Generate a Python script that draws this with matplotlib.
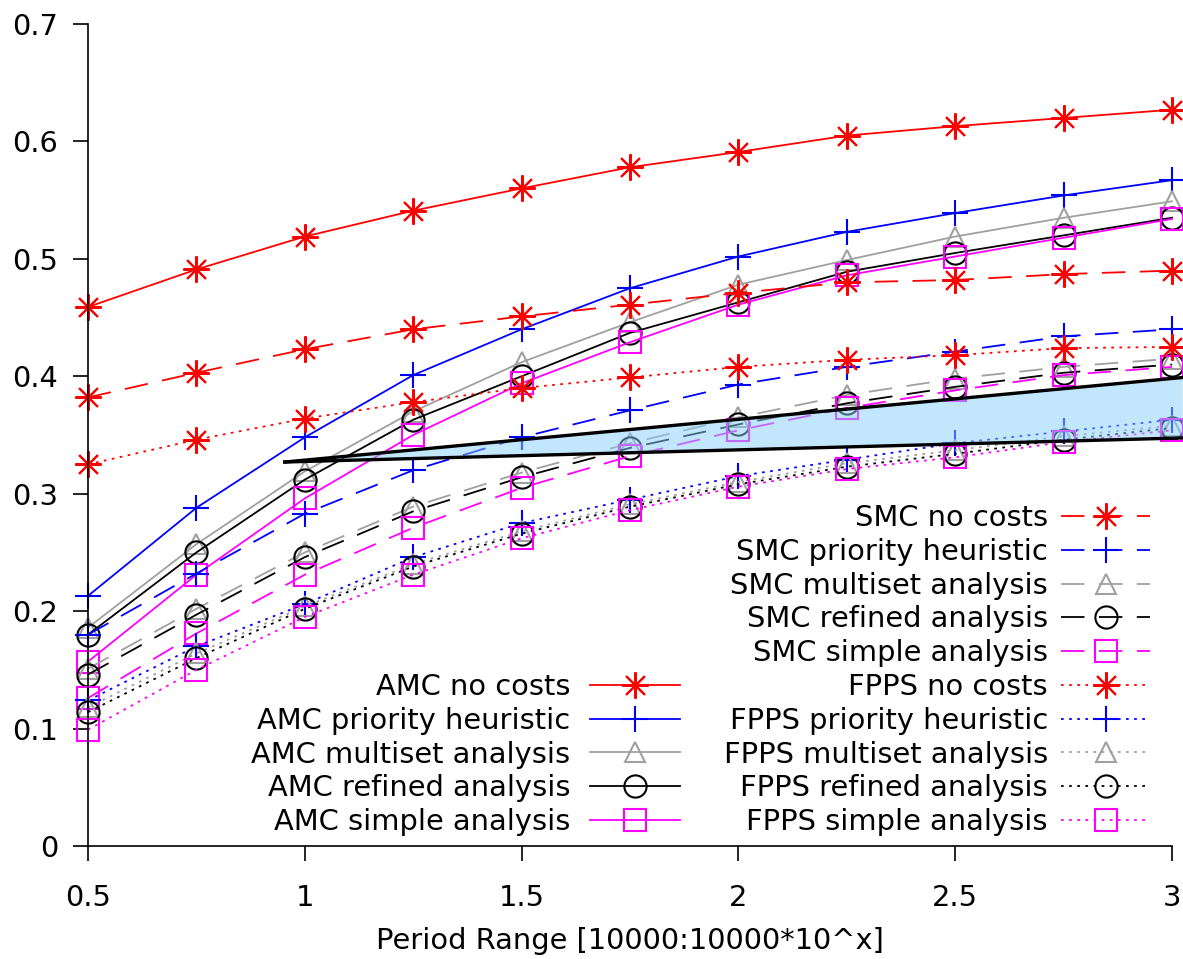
import numpy as np
import matplotlib
matplotlib.use("Agg")
import matplotlib.pyplot as plt

# period range exponent
x = [0.5, 0.75, 1.0, 1.25, 1.5, 1.75, 2.0, 2.25, 2.5, 2.75, 3.0]

amc_nocost = [0.459, 0.491, 0.519, 0.541, 0.560, 0.578, 0.591, 0.605, 0.613, 0.620, 0.627]
amc_prio = [0.213, 0.288, 0.348, 0.401, 0.440, 0.475, 0.502, 0.523, 0.539, 0.554, 0.567]
amc_multi = [0.186, 0.257, 0.319, 0.370, 0.412, 0.446, 0.478, 0.499, 0.519, 0.535, 0.549]
amc_refined = [0.180, 0.250, 0.312, 0.363, 0.400, 0.437, 0.463, 0.489, 0.505, 0.520, 0.535]
amc_simple = [0.157, 0.231, 0.296, 0.350, 0.394, 0.429, 0.461, 0.486, 0.502, 0.518, 0.534]

smc_nocost = [0.382, 0.403, 0.423, 0.440, 0.451, 0.461, 0.471, 0.480, 0.482, 0.487, 0.490]
smc_prio = [0.180, 0.232, 0.283, 0.320, 0.348, 0.371, 0.393, 0.408, 0.421, 0.434, 0.440]
smc_multi = [0.151, 0.202, 0.250, 0.289, 0.318, 0.343, 0.365, 0.384, 0.398, 0.408, 0.415]
smc_refined = [0.146, 0.197, 0.246, 0.285, 0.314, 0.339, 0.359, 0.377, 0.391, 0.403, 0.410]
smc_simple = [0.126, 0.181, 0.231, 0.271, 0.305, 0.332, 0.354, 0.373, 0.388, 0.401, 0.408]

fpps_nocost = [0.325, 0.346, 0.364, 0.378, 0.390, 0.399, 0.408, 0.414, 0.418, 0.424, 0.425]
fpps_prio = [0.124, 0.170, 0.206, 0.246, 0.275, 0.295, 0.315, 0.329, 0.343, 0.353, 0.363]
fpps_multi = [0.118, 0.164, 0.204, 0.240, 0.268, 0.291, 0.310, 0.326, 0.337, 0.349, 0.358]
fpps_refined = [0.114, 0.160, 0.202, 0.238, 0.266, 0.289, 0.308, 0.323, 0.334, 0.346, 0.356]
fpps_simple = [0.099, 0.150, 0.195, 0.231, 0.262, 0.286, 0.306, 0.321, 0.331, 0.344, 0.354]

# highlighted wedge (start point, upper end, lower end)
wedge_x = [0.954, 3.025, 3.025]
wedge_y = [0.327, 0.399, 0.3475]

xticks = [0.5, 1, 1.5, 2, 2.5, 3]
xticklabels = ["0.5", "1", "1.5", "2", "2.5", "3"]
yticks = [0, 0.1, 0.2, 0.3, 0.4, 0.5, 0.6, 0.7]
yticklabels = ["0", "0.1", "0.2", "0.3", "0.4", "0.5", "0.6", "0.7"]

plt.rcParams['font.family'] = ['DejaVu Sans']
FS = 20.8

fig = plt.figure(figsize=(11.83, 9.59), dpi=100)
ax = fig.add_axes([88/1183, 1-846/959, (1172-88)/1183, (846-24)/959])

dashed = (0, (13, 8))
dotted = (0, (1.5, 3))
lw = 1.3
star = (8, 2, 0)

groups = [
    ("AMC", "-", [amc_nocost, amc_prio, amc_multi, amc_refined, amc_simple]),
    ("SMC", dashed, [smc_nocost, smc_prio, smc_multi, smc_refined, smc_simple]),
    ("FPPS", dotted, [fpps_nocost, fpps_prio, fpps_multi, fpps_refined, fpps_simple]),
]
names = ["no costs", "priority heuristic", "multiset analysis", "refined analysis", "simple analysis"]
colors = ["#ff0000", "#0000ff", "#a0a0a0", "#000000", "#ff00ff"]
markers = [star, "+", "^", "o", "s"]
msizes = [19, 19, 15, 16, 16]

handles = {}
for prefix, ls, series in groups:
    handles[prefix] = []
    for name, vals, c, m, ms in zip(names, series, colors, markers, msizes):
        h, = ax.plot(x, vals, linestyle=ls, color=c, lw=lw, marker=m, ms=ms,
                     mfc="none", mec=c, mew=1.5, label=prefix + " " + name,
                     clip_on=False)
        handles[prefix].append(h)

# shaded wedge on top
ax.fill(wedge_x, wedge_y, color="#87cefa", alpha=0.5, lw=0, clip_on=False, zorder=5)
ax.plot([wedge_x[0], wedge_x[1]], [wedge_y[0], wedge_y[1]], color="black", lw=2.4,
        clip_on=False, zorder=6)
ax.plot([wedge_x[0], wedge_x[2]], [wedge_y[0], wedge_y[2]], color="black", lw=2.4,
        clip_on=False, zorder=6)

ax.set_xlim(0.5, 3)
ax.set_ylim(0, 0.7)
ax.set_xticks(xticks)
ax.set_xticklabels(xticklabels)
ax.set_yticks(yticks)
ax.set_yticklabels(yticklabels)
ax.tick_params(direction="out", length=10.5, width=1.2, labelsize=FS)
ax.tick_params(axis="y", pad=11)
ax.tick_params(axis="x", pad=17)
for s in ["top", "right"]:
    ax.spines[s].set_visible(False)
for s in ["left", "bottom"]:
    ax.spines[s].set_linewidth(1.2)
ax.set_xlabel("Period Range [10000:10000*10^x]", fontsize=FS, labelpad=11)

leg_kw = dict(loc="lower right", frameon=False, markerfirst=False, fontsize=FS,
              borderpad=0, borderaxespad=0, handlelength=3.1, handletextpad=0.7,
              labelspacing=0.2, numpoints=1)
leg1 = ax.legend(handles=handles["AMC"], bbox_to_anchor=(0.546, 0.012), **leg_kw)
ax.add_artist(leg1)
leg2 = ax.legend(handles=handles["SMC"] + handles["FPPS"],
                 bbox_to_anchor=(0.980, 0.012), handletextpad=0.45,
                 **{k: v for k, v in leg_kw.items() if k != "handletextpad"})

fig.savefig("out.png", dpi=100)
